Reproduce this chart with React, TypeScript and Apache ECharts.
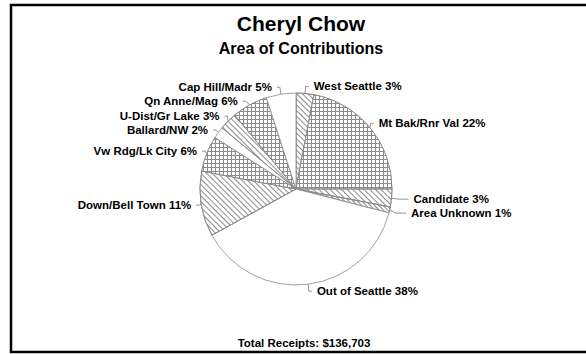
import React, { useEffect, useRef } from "react";
import * as echarts from "echarts";

const categories = [
  "West Seattle",
  "Mt Bak/Rnr Val",
  "Candidate",
  "Area Unknown",
  "Out of Seattle",
  "Down/Bell Town",
  "Vw Rdg/Lk City",
  "Ballard/NW",
  "U-Dist/Gr Lake",
  "Qn Anne/Mag",
  "Cap Hill/Madr",
];
const percents = [3, 22, 3, 1, 38, 11, 6, 2, 3, 6, 5];
const patterns = ["diag", "grid", "diag", "diag2", "plain", "diag", "grid", "plain", "diag", "grid", "plain"];
const leaderLengths = [7, 7, 12, 12, 7, 7, 7, 7, 7, 7, 7];
const leaderTails = [3, 3, 10, 10, 3, 3, 3, 3, 3, 3, 3];
const titleText = "Cheryl Chow";
const subtitleText = "Area of Contributions";
const footerText = "Total Receipts: $136,703";

const FONT = "'Liberation Sans', Arial, sans-serif";

function styleFor(p: string) {
  if (p === "grid") {
    return {
      color: "#8c8c8c",
      decal: {
        symbol: "rect",
        color: "#ffffff",
        dashArrayX: [[3, 1]],
        dashArrayY: [3, 1],
        symbolSize: 1,
        rotation: 0,
      },
    };
  }
  if (p === "diag" || p === "diag2") {
    return {
      color: "#ffffff",
      decal: {
        symbol: "rect",
        color: "#8c8c8c",
        dashArrayX: [[1, 0]],
        dashArrayY: p === "diag" ? [1, 3] : [1, 2],
        symbolSize: 1,
        rotation: Math.PI / 4,
      },
    };
  }
  return { color: "#ffffff" };
}

export default function App() {
  const ref = useRef<HTMLDivElement>(null);
  useEffect(() => {
    if (!ref.current) return;
    const chart = echarts.init(ref.current, undefined, { renderer: "svg" });
    const data = categories.map((name, i) => ({
      name,
      value: percents[i],
      itemStyle: styleFor(patterns[i]),
      labelLine: { length: leaderLengths[i], length2: leaderTails[i] },
    }));
    chart.setOption({
      animation: false,
      backgroundColor: "#ffffff",
      title: [
        {
          text: titleText,
          left: 296,
          textAlign: "center",
          top: 8,
          textStyle: { fontFamily: FONT, fontSize: 21, fontWeight: "bold", color: "#000" },
        },
        {
          text: subtitleText,
          left: 296,
          textAlign: "center",
          top: 35,
          textStyle: { fontFamily: FONT, fontSize: 16, fontWeight: "bold", color: "#000" },
        },
        {
          text: footerText,
          left: 299,
          textAlign: "center",
          top: 332,
          textStyle: { fontFamily: FONT, fontSize: 11.5, fontWeight: "bold", color: "#000" },
        },
      ],
      graphic: [
        {
          type: "rect",
          shape: { x: 11, y: 5, width: 590, height: 347 },
          style: { fill: "none", stroke: "#000", lineWidth: 2.5 },
          silent: true,
        },
      ],
      series: [
        {
          type: "pie",
          center: [296, 189],
          radius: 96,
          startAngle: 90,
          clockwise: true,
          avoidLabelOverlap: true,
          itemStyle: { borderColor: "#888", borderWidth: 0.8 },
          label: {
            show: true,
            position: "outer",
            formatter: (p: any) => `${p.name} ${p.value}%`,
            fontFamily: FONT,
            fontSize: 11.5,
            fontWeight: "bold",
            color: "#000",
          },
          labelLine: {
            show: true,
            length: 7,
            length2: 3,
            lineStyle: { color: "#777", width: 0.8 },
          },
          emphasis: { disabled: true },
          data,
        },
      ],
    });
    return () => chart.dispose();
  }, []);
  return (
    <div
      ref={ref}
      style={{ position: "fixed", left: 0, top: 0, width: 586, height: 354 }}
    />
  );
}
